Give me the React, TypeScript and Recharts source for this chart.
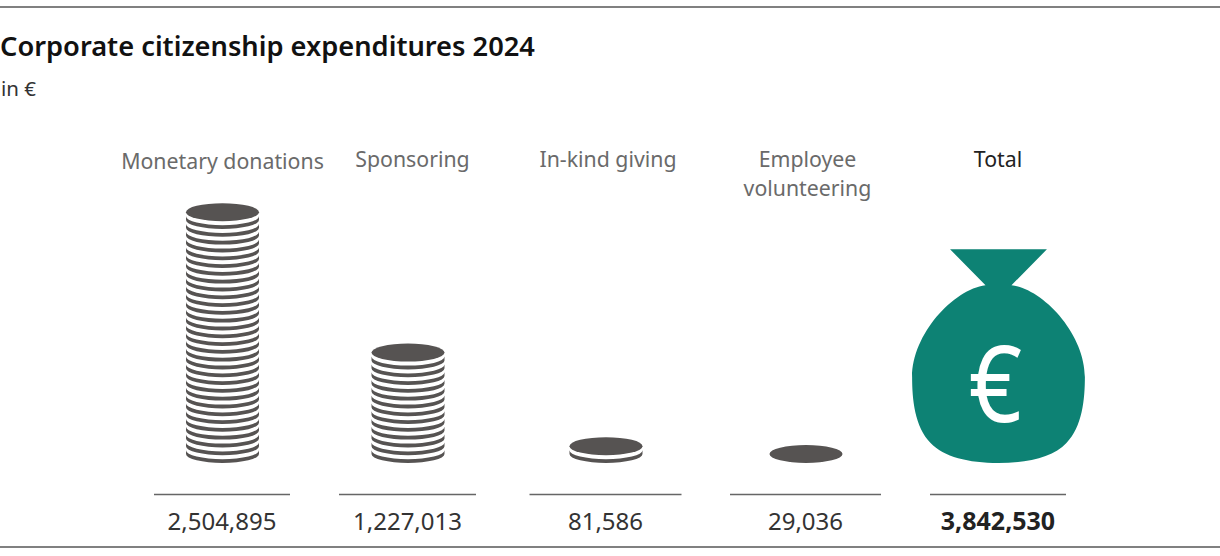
import { BarChart, Bar, XAxis, YAxis } from "recharts";

const categories = ["Monetary donations", "Sponsoring", "In-kind giving", "Employee volunteering", "Total"];
const amounts = [2504895, 1227013, 81586, 29036, 3842530];
// coins drawn per stack; the last entry is the bag's height in the same units
const stackSizes = [32, 14, 2, 1, 27.4];

const data = categories.map((name, i) => ({
  name,
  amount: amounts[i],
  stack: stackSizes[i],
}));

const FONT = '"Noto Sans", sans-serif';
const DARK = "#565352";
const GREEN = "#0d8274";
const COIN_WIDTH = 73;

// columns in the original are not evenly spaced
const columnShift = [0, -8.5, -4.5, 1.5, 0];
const labelShift = [0.5, -3.5, -2, 3.5, 0];
const ruleWidths = [136, 137, 152, 151, 136];
const labelLines: Record<string, string[]> = { "Employee volunteering": ["Employee", "volunteering"] };

function CoinStack({ x, y, width, height, index }: any) {
  const total = index === 4;
  const cx = x + width / 2 + columnShift[index];
  const base = y + height;
  if (total) {
    const s = height / 214;
    return (
      <g transform={`translate(${cx},${y}) scale(${s})`}>
        <path
          fill={GREEN}
          d="M-48.5,0 L48.5,0 L13,36 C45,40 86.5,85 86.5,128 C86.5,150 84,178 68,194 C55,208 30,214 0,214 C-30,214 -55,208 -68,194 C-84,178 -86.5,150 -86.5,128 C-86.5,85 -45,40 -13,36 Z"
        />
        <text transform="translate(-3,173) scale(0.88,1)" textAnchor="middle" fontFamily={FONT} fontSize={106} fill="#fff">
          €
        </text>
      </g>
    );
  }
  const count = stackSizes[index];
  const step = height / count;
  const rx = COIN_WIDTH / 2;
  const ry = 9;
  const bands = [];
  for (let i = 0; i < count - 1; i++) {
    const cy = base - ry - i * step;
    bands.push(
      <path
        key={i}
        fill={DARK}
        d={`M${cx - rx},${cy} A${rx},${ry} 0 0 0 ${cx + rx},${cy} V${cy - 3.8} A${rx},${ry} 0 0 1 ${cx - rx},${cy - 3.8} Z`}
      />
    );
  }
  return (
    <g>
      {bands}
      <ellipse cx={cx} cy={base - ry - (count - 1) * step} rx={rx} ry={ry} fill={DARK} />
    </g>
  );
}

function NameTick({ x, index, payload }: any) {
  const lines = labelLines[payload.value] || [payload.value];
  const top = index === 0 ? 169 : 167;
  return (
    <text textAnchor="middle" fontFamily={FONT} fontSize={21.3} fill={index === 4 ? "#222" : "#6a6a6a"}>
      {lines.map((line, i) => (
        <tspan key={line} x={x + labelShift[index]} y={top + i * 29}>
          {line}
        </tspan>
      ))}
    </text>
  );
}

function AmountTick({ x, index, payload }: any) {
  const cx = x + columnShift[index];
  const w = ruleWidths[index];
  return (
    <g>
      <line x1={cx - w / 2} x2={cx + w / 2} y1={494.5} y2={494.5} stroke="#666" strokeWidth={1.5} />
      <text
        x={cx}
        y={529.5}
        textAnchor="middle"
        fontFamily={FONT}
        fontSize={index === 4 ? 25 : 24}
        fontWeight={index === 4 ? 700 : 400}
        fill={index === 4 ? "#222" : "#333"}
      >
        {payload.value.toLocaleString("en-US")}
      </text>
    </g>
  );
}

export default function App() {
  return (
    <div style={{ position: "absolute", left: 0, top: 0, width: 1220, height: 556, background: "#fff", fontFamily: FONT }}>
      <div style={{ position: "absolute", left: 0, right: 0, top: 6, height: 2, background: "#808080" }} />
      <div style={{ position: "absolute", left: 0, top: 28, fontSize: 27.25, fontWeight: 600, lineHeight: "36px", color: "#111", whiteSpace: "nowrap" }}>
        Corporate citizenship expenditures 2024
      </div>
      <div style={{ position: "absolute", left: 1, top: 75, fontSize: 20.5, lineHeight: "26px", color: "#333" }}>in €</div>
      <div style={{ position: "absolute", left: 0, right: 0, top: 546, height: 2, background: "#808080" }} />
      <div style={{ position: "absolute", left: 0, top: 0 }}>
        <BarChart width={1220} height={556} data={data} margin={{ top: 91, right: 125, bottom: 0, left: 125 }} barSize={COIN_WIDTH}>
          <XAxis xAxisId="names" orientation="top" dataKey="name" height={60} interval={0} axisLine={false} tickLine={false} tick={<NameTick />} />
          <XAxis xAxisId="amounts" orientation="bottom" dataKey="amount" height={93} interval={0} axisLine={false} tickLine={false} tick={<AmountTick />} />
          <YAxis hide domain={[0, 40]} />
          <Bar xAxisId="amounts" dataKey="stack" shape={<CoinStack />} isAnimationActive={false} />
        </BarChart>
      </div>
    </div>
  );
}
